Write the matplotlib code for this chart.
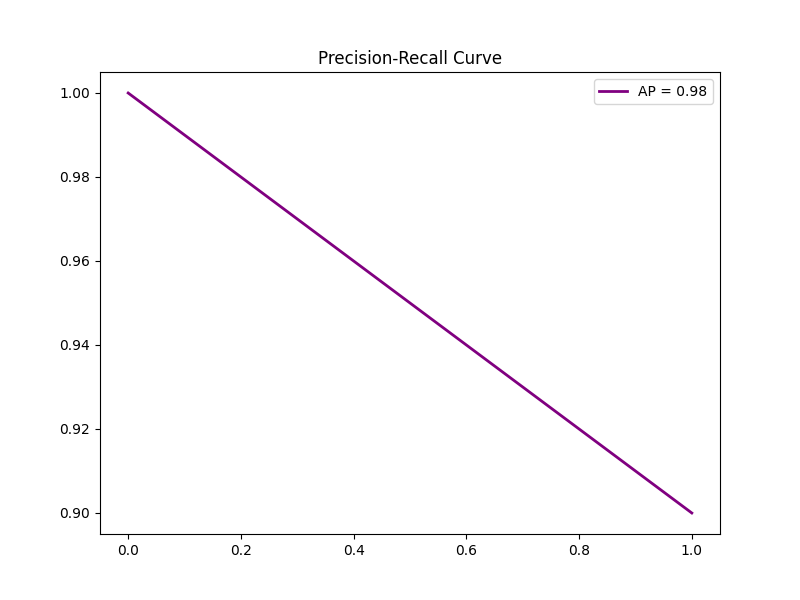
import matplotlib
matplotlib.use("Agg")
import matplotlib.pyplot as plt

recall = [0.0, 1.0]
precision = [1.0, 0.9]
ap_score = 0.98

fig, ax = plt.subplots(figsize=(8, 6), dpi=100)
ax.plot(recall, precision, color="purple", lw=2, label=f"AP = {ap_score:.2f}")
ax.set_title("Precision-Recall Curve")
ax.legend(loc="upper right")

fig.savefig("out.png")
